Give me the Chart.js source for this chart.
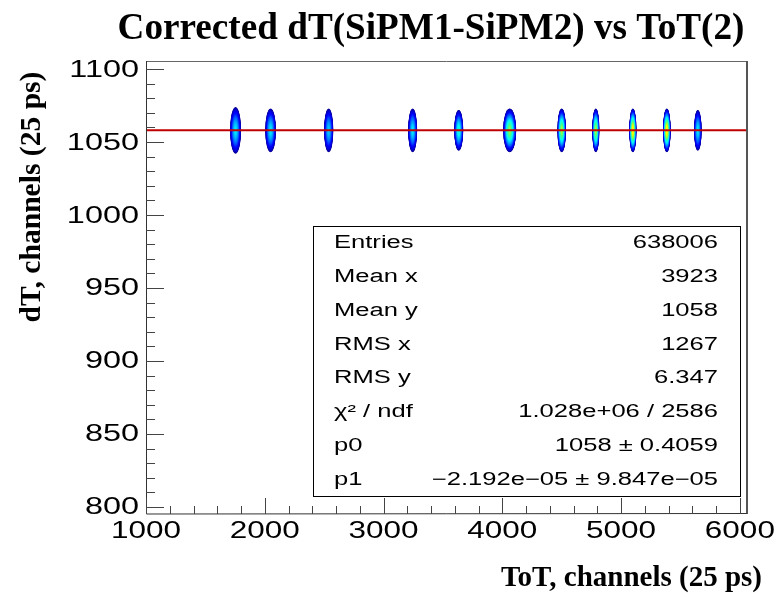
<!DOCTYPE html>
<html><head><meta charset="utf-8">
<script src="https://cdn.jsdelivr.net/npm/chart.js@4.4.1/dist/chart.umd.min.js"></script>
<style>html,body{margin:0;padding:0;background:#fff;}#wrap{width:778px;height:597px;position:relative;}</style>
</head><body><div id="wrap"><canvas id="c" width="778" height="597"></canvas></div>
<script>
// ---- data ----
const titleText = 'Corrected dT(SiPM1-SiPM2) vs ToT(2)';
const xTitle = 'ToT, channels (25 ps)';
const yTitle = 'dT, channels (25 ps)';
const xTicks = [1000, 2000, 3000, 4000, 5000, 6000];
const yTicks = [800, 850, 900, 950, 1000, 1050, 1100];
const xMinorStep = 200;
const yMinorStep = 10;
// blob centres (ToT, dT), outer-contour half extents (in channels) and peak level (0..1 of palette)
const blobToT  = [1754, 2049, 2538, 3245, 3633, 4062, 4500, 4787, 5099, 5385, 5646];
const blobDT   = [1058, 1058, 1058, 1058, 1058, 1058, 1058, 1058, 1058, 1058, 1058];
const blobHalfToT = [46, 45, 39, 38, 38, 55, 36, 30, 30, 32, 32];
const blobHalfDT  = [16, 15, 15, 15, 14, 15, 15, 15, 15, 15, 14];
const blobPeak = [0.45, 0.45, 0.42, 0.45, 0.5, 0.6, 0.62, 0.62, 0.7, 0.7, 0.45];
// fit line pol1
const fitToT = [1000, 6060];
const fitDT  = [1058, 1058];
// stats box
const statLabels = ['Entries', 'Mean x', 'Mean y', 'RMS x', 'RMS y', 'χ² / ndf', 'p0', 'p1'];
const statValues = ['638006', '3923', '1058', '1267', '6.347', '1.028e+06 / 2586', '1058 ± 0.4059', '−2.192e−05 ± 9.847e−05'];

// ---- palette ----
const palStops = [[0,'#1a006e'],[0.1,'#0000c8'],[0.2,'#0000ff'],[0.3,'#0060ff'],[0.4,'#00c0ff'],[0.46,'#00ffff'],[0.55,'#40ff90'],[0.62,'#c0ff20'],[0.67,'#ffff00'],[0.75,'#ffa000'],[0.85,'#ff2000'],[1,'#c00000']];
function hex(c){return [parseInt(c.slice(1,3),16),parseInt(c.slice(3,5),16),parseInt(c.slice(5,7),16)];}
function palette(t){
  for(let i=1;i<palStops.length;i++){
    if(t<=palStops[i][0]){
      const [t0,c0]=palStops[i-1],[t1,c1]=palStops[i];
      const f=(t-t0)/(t1-t0), a=hex(c0), b=hex(c1);
      return 'rgb('+a.map((v,k)=>Math.round(v+(b[k]-v)*f)).join(',')+')';
    }
  }
  return palStops[palStops.length-1][1];
}
function txt(ctx,s,x,y,font,align,base,sx,rot){
  ctx.save();ctx.font=font;ctx.textAlign=align;ctx.textBaseline=base;ctx.fillStyle='#000';
  ctx.translate(x,y);if(rot)ctx.rotate(rot);ctx.scale(sx,1);ctx.fillText(s,0,0);ctx.restore();
}

const rootPlugin = {
  id:'rootStyle',
  beforeDraw(chart){
    const ctx=chart.ctx;ctx.save();ctx.fillStyle='#fff';ctx.fillRect(0,0,chart.width,chart.height);ctx.restore();
  },
  beforeDatasetsDraw(chart){
    const ctx=chart.ctx, xs=chart.scales.x, ys=chart.scales.y, a=chart.chartArea;
    const meta=chart.getDatasetMeta(0);
    ctx.save();ctx.beginPath();ctx.rect(a.left,a.top,a.right-a.left,a.bottom-a.top);ctx.clip();
    meta.data.forEach((el,i)=>{
      const cx=el.x, cy=el.y;
      const rx=Math.abs(xs.getPixelForValue(blobToT[i]+blobHalfToT[i])-cx);
      const ry=Math.abs(ys.getPixelForValue(blobDT[i]+blobHalfDT[i])-cy);
      const P=blobPeak[i], l0=0.04;
      for(let L=l0; L<P; L+=0.015){
        const g=(L-l0)/(P-l0);
        const r=Math.pow(1-g,0.55);
        ctx.beginPath();
        ctx.ellipse(cx,cy,Math.max(rx*r,0.6),Math.max(ry*r,0.8),0,0,Math.PI*2);
        ctx.fillStyle=palette(L);ctx.fill();
      }
    });
    ctx.restore();
  },
  afterDatasetsDraw(chart){
    const ctx=chart.ctx, xs=chart.scales.x, ys=chart.scales.y, a=chart.chartArea;
    ctx.save();
    // frame
    ctx.strokeStyle='#666';ctx.lineWidth=1;
    ctx.beginPath();ctx.moveTo(a.left,a.top+0.5);ctx.lineTo(a.right,a.top+0.5);ctx.stroke();
    ctx.lineWidth=2;ctx.strokeStyle='#555';
    ctx.beginPath();ctx.moveTo(a.right,a.top);ctx.lineTo(a.right,a.bottom);ctx.stroke();
    ctx.lineWidth=1;ctx.strokeStyle='#333';
    ctx.beginPath();ctx.moveTo(a.left+0.5,a.top);ctx.lineTo(a.left+0.5,a.bottom);ctx.lineTo(a.right,a.bottom-0.5);ctx.stroke();
    // ticks
    ctx.strokeStyle='#444';ctx.beginPath();
    for(let v=yTicks[0]; v<=yTicks[yTicks.length-1]; v+=yMinorStep){
      const p=Math.round(ys.getPixelForValue(v))+0.5;
      const len=(yTicks.includes(v))?18:9;
      ctx.moveTo(a.left,p);ctx.lineTo(a.left+len,p);
    }
    for(let v=xTicks[0]; v<=xTicks[xTicks.length-1]; v+=xMinorStep){
      const p=Math.round(xs.getPixelForValue(v))+0.5;
      const len=(xTicks.includes(v))?16:8;
      ctx.moveTo(p,a.bottom);ctx.lineTo(p,a.bottom-len);
    }
    ctx.stroke();
    // tick labels
    const tf='23.5px "Liberation Sans", Arial, sans-serif';
    yTicks.forEach(v=>txt(ctx,String(v),139,ys.getPixelForValue(v)+1,tf,'right','middle',1.38));
    xTicks.forEach(v=>txt(ctx,String(v),xs.getPixelForValue(v),532,tf,'center','middle',1.34));
    // titles
    txt(ctx,titleText,431,39,'bold 37px "Liberation Serif", "Times New Roman", serif','center','alphabetic',1.005);
    txt(ctx,xTitle,762,586,'bold 29px "Liberation Serif", "Times New Roman", serif','right','alphabetic',1);
    txt(ctx,yTitle,40,197,'bold 29px "Liberation Serif", "Times New Roman", serif','center','alphabetic',1.02,-Math.PI/2);
    // stats box
    const bx=313,by=226,bw=427,bh=270;
    ctx.fillStyle='#fff';ctx.fillRect(bx,by,bw,bh);
    ctx.strokeStyle='#000';ctx.lineWidth=1;ctx.strokeRect(bx+0.5,by+0.5,bw,bh);
    const rowH=bh/statLabels.length, sf='18px "Liberation Sans", Arial, sans-serif';
    statLabels.forEach((s,i)=>{
      const y=by+rowH*(i+0.5)+0.5;
      txt(ctx,s,334,y,sf,'left','middle',1.42);
      txt(ctx,statValues[i],718,y,sf,'right','middle',1.42);
    });
    ctx.restore();
  }
};

new Chart(document.getElementById('c'),{
  type:'scatter',
  data:{datasets:[
    {label:'dT vs ToT',data:blobToT.map((x,i)=>({x:x,y:blobDT[i]})),pointRadius:0,pointHoverRadius:0,showLine:false},
    {label:'fit',type:'line',data:fitToT.map((x,i)=>({x:x,y:fitDT[i]})),borderColor:'#c00000',borderWidth:2,pointRadius:0,fill:false,tension:0}
  ]},
  options:{
    responsive:false,animation:false,events:[],
    layout:{padding:{left:146,top:61,right:31,bottom:83}},
    plugins:{legend:{display:false},tooltip:{enabled:false},title:{display:false}},
    scales:{
      x:{type:'linear',min:1000,max:6060,display:false},
      y:{type:'linear',min:795.2,max:1105.5,display:false}
    }
  },
  plugins:[rootPlugin]
});
</script></body></html>
